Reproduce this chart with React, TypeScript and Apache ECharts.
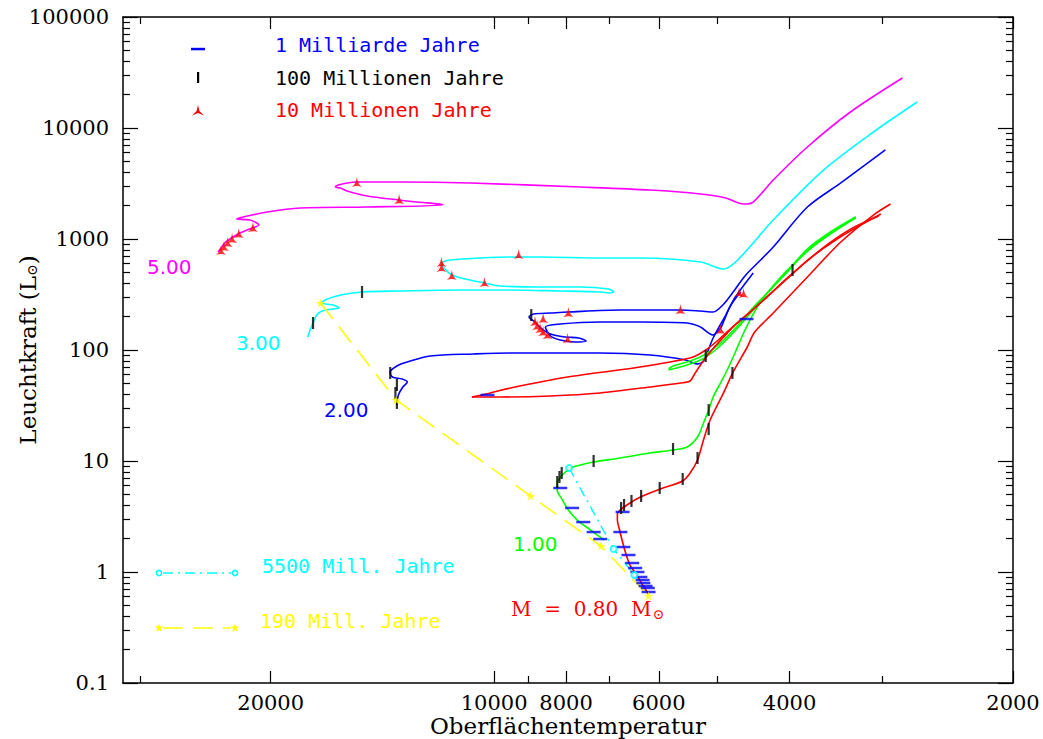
import React, { useEffect, useRef } from "react";
import * as echarts from "echarts";

type P = [number, number];

// ---- axis tick values (Teff in K, luminosity in L_sun) ----
const xMajorTemps = [20000, 10000, 8000, 6000, 4000, 2000];
const xMinorTemps = [30000, 9000, 7000, 5000, 3000];
const yMajorLums = [0.1, 1, 10, 100, 1000, 10000, 100000];
const yLumLabels = ["0.1", "1", "10", "100", "1000", "10000", "100000"];

// ---- evolutionary tracks: [log10 Teff, log10 L/Lsun] ----
const track500: P[] = [
  [4.372, 2.883], [4.368, 2.919], [4.363, 2.964], [4.356, 3.0], [4.345, 3.045],
  [4.326, 3.099], [4.317, 3.126], [4.329, 3.171], [4.347, 3.18], [4.338, 3.198],
  [4.306, 3.243], [4.261, 3.279], [4.171, 3.288], [4.069, 3.306], [4.073, 3.315],
  [4.104, 3.333], [4.128, 3.351], [4.171, 3.387], [4.198, 3.432], [4.207, 3.459],
  [4.214, 3.468], [4.21, 3.486], [4.198, 3.505], [4.185, 3.514], [4.126, 3.514],
  [4.032, 3.505], [3.884, 3.468], [3.79, 3.441], [3.722, 3.405], [3.688, 3.369],
  [3.664, 3.315], [3.651, 3.333], [3.624, 3.532], [3.578, 3.829], [3.52, 4.144],
  [3.45, 4.45],
];
const track300: P[] = [
  [4.251, 2.117], [4.248, 2.18], [4.244, 2.243], [4.239, 2.315], [4.232, 2.351],
  [4.218, 2.369], [4.209, 2.378], [4.217, 2.405], [4.232, 2.423], [4.228, 2.45],
  [4.207, 2.495], [4.178, 2.523], [4.127, 2.532], [4.046, 2.541], [3.978, 2.541],
  [3.911, 2.532], [3.857, 2.523], [3.843, 2.514], [3.839, 2.523], [3.846, 2.55],
  [3.884, 2.568], [3.938, 2.568], [3.992, 2.577], [4.013, 2.604], [4.039, 2.64],
  [4.057, 2.676], [4.065, 2.721], [4.07, 2.766], [4.069, 2.793], [4.059, 2.811],
  [4.019, 2.829], [3.978, 2.838], [3.938, 2.838], [3.857, 2.829], [3.803, 2.829],
  [3.722, 2.793], [3.691, 2.73], [3.672, 2.811], [3.624, 3.171], [3.556, 3.622],
  [3.489, 3.964], [3.43, 4.234],
];
const track200ms: P[] = [
  [4.131, 1.505], [4.129, 1.595], [4.123, 1.667], [4.117, 1.712], [4.124, 1.739],
  [4.137, 1.757], [4.14, 1.802], [4.131, 1.856], [4.117, 1.892], [4.086, 1.946],
  [4.028, 1.964], [3.978, 1.973], [3.857, 1.973], [3.79, 1.955], [3.742, 1.91],
  [3.726, 1.874], [3.718, 1.901], [3.705, 2.108], [3.688, 2.315], [3.675, 2.477],
  [3.651, 2.694],
];
const track200loop: P[] = [
  [3.668, 2.523], [3.682, 2.396], [3.69, 2.27], [3.695, 2.198], [3.705, 2.135],
  [3.713, 2.162], [3.722, 2.207], [3.74, 2.243], [3.803, 2.252], [3.857, 2.252],
  [3.911, 2.234], [3.931, 2.207], [3.924, 2.126], [3.911, 2.09], [3.891, 2.072],
  [3.876, 2.081], [3.886, 2.108], [3.904, 2.117], [3.924, 2.144], [3.937, 2.198],
  [3.945, 2.252], [3.953, 2.297], [3.947, 2.324], [3.924, 2.333], [3.901, 2.342],
  [3.83, 2.36], [3.749, 2.36], [3.722, 2.351], [3.705, 2.342], [3.692, 2.405],
  [3.678, 2.523], [3.661, 2.676], [3.641, 2.811], [3.624, 2.928], [3.578, 3.288],
  [3.533, 3.505], [3.473, 3.802],
];
const track100: P[] = [
  [3.852, 0.288], [3.861, 0.333], [3.87, 0.378], [3.888, 0.468], [3.9, 0.559],
  [3.908, 0.649], [3.915, 0.739], [3.915, 0.802], [3.908, 0.874], [3.897, 0.937],
  [3.884, 0.964], [3.866, 0.991], [3.83, 1.027], [3.79, 1.072], [3.759, 1.099],
  [3.74, 1.126], [3.726, 1.216], [3.718, 1.342], [3.711, 1.459], [3.705, 1.577],
  [3.695, 1.703], [3.686, 1.82], [3.675, 1.982], [3.664, 2.153], [3.648, 2.36],
  [3.632, 2.514], [3.601, 2.748], [3.564, 2.964], [3.533, 3.108], [3.513, 3.198],
];
const track100hbA: P[] = [
  [3.765, 1.829], [3.759, 1.856], [3.736, 1.901], [3.715, 1.964], [3.695, 2.063],
  [3.675, 2.198], [3.648, 2.405], [3.624, 2.568], [3.601, 2.739], [3.578, 2.91],
  [3.547, 3.063], [3.513, 3.198],
];
const track100hbB: P[] = [
  [3.765, 1.82], [3.749, 1.847], [3.722, 1.91], [3.702, 2.0], [3.682, 2.126],
  [3.657, 2.315], [3.631, 2.523], [3.605, 2.703], [3.58, 2.883], [3.55, 3.036],
  [3.513, 3.189],
];
const track080: P[] = [
  [3.792, -0.198], [3.8, -0.117], [3.808, -0.027], [3.817, 0.063], [3.822, 0.153],
  [3.827, 0.27], [3.831, 0.378], [3.834, 0.468], [3.834, 0.523], [3.83, 0.559],
  [3.821, 0.604], [3.803, 0.676], [3.776, 0.748], [3.746, 0.82], [3.736, 0.892],
  [3.726, 1.009], [3.718, 1.189], [3.709, 1.369], [3.691, 1.613], [3.678, 1.802],
  [3.659, 2.027], [3.649, 2.162], [3.624, 2.333], [3.578, 2.658], [3.533, 2.973],
  [3.489, 3.216], [3.466, 3.315],
];
const track080hbA: P[] = [
  [4.03, 1.577], [3.992, 1.577], [3.924, 1.586], [3.857, 1.613], [3.79, 1.667],
  [3.749, 1.703], [3.736, 1.721], [3.73, 1.784], [3.722, 1.865], [3.709, 1.982],
  [3.692, 2.108], [3.674, 2.234], [3.652, 2.36], [3.628, 2.505], [3.601, 2.667],
  [3.574, 2.829], [3.54, 2.991], [3.506, 3.126], [3.479, 3.225],
];
const track080hbB: P[] = [
  [4.03, 1.577], [4.005, 1.613], [3.978, 1.658], [3.901, 1.757], [3.812, 1.838],
  [3.763, 1.892], [3.732, 1.937], [3.715, 2.0], [3.698, 2.09], [3.679, 2.207],
  [3.657, 2.333], [3.634, 2.468], [3.608, 2.631], [3.58, 2.793], [3.55, 2.955],
  [3.517, 3.099], [3.482, 3.207],
];

// ---- isochrones ----
const iso190: P[] = [
  [4.234, 2.423], [4.132, 1.55], [3.951, 0.685], [3.856, 0.234], [3.792, -0.216],
];
const iso5500: P[] = [[3.899, 0.937], [3.839, 0.207], [3.811, -0.027]];

// ---- age markers ----
const marks10Myr: P[] = [
  [4.368, 2.901], [4.364, 2.937], [4.359, 2.973], [4.353, 3.009], [4.344, 3.054],
  [4.325, 3.108], [4.185, 3.514], [4.128, 3.36],
  [4.071, 2.793], [4.071, 2.748], [4.057, 2.676], [4.013, 2.613], [3.967, 2.865],
  [3.945, 2.261], [3.942, 2.225], [3.938, 2.198], [3.934, 2.171], [3.928, 2.144],
  [3.934, 2.288], [3.901, 2.108], [3.9, 2.342], [3.749, 2.369], [3.67, 2.523],
  [3.664, 2.514], [3.695, 2.189],
];
const marks100Myr: P[] = [
  [4.244, 2.243], [4.178, 2.523],
  [4.14, 1.793], [4.131, 1.685], [4.133, 1.613], [4.131, 1.523], [3.95, 2.315], [3.715, 1.946],
  [3.915, 0.811], [3.912, 0.856], [3.909, 0.892], [3.866, 1.0], [3.759, 1.108], [3.711, 1.459], [3.598, 2.721],
  [3.829, 0.577], [3.825, 0.604], [3.815, 0.64], [3.802, 0.685], [3.777, 0.757], [3.746, 0.838],
  [3.726, 1.027], [3.711, 1.288], [3.679, 1.793],
];
const marks1Gyr: P[] = [
  [3.827, 0.541], [3.83, 0.36], [3.826, 0.225], [3.819, 0.153], [3.814, 0.081], [3.81, 0.036],
  [3.807, 0.0], [3.803, -0.045], [3.8, -0.072], [3.799, -0.099], [3.796, -0.126], [3.793, -0.144],
  [3.792, -0.18],
  [3.911, 0.757], [3.895, 0.577], [3.88, 0.45], [3.866, 0.36], [3.857, 0.297],
  [4.009, 1.595], [3.66, 2.279],
];

const MAGENTA = "#ff00ff";
const CYAN = "#00ffff";
const BLUE = "#0000ff";
const RED = "#ff0000";
const GREEN = "#00ff00";
const YELLOW = "#ffff00";

const TRI_PATH = "path://M0,-10 Q1.6,1 8.7,5 Q0,2.4 -8.7,5 Q-1.6,1 0,-10 Z";
const STAR_PATH =
  "path://M0,-10 L2.4,-3.3 L9.5,-3.1 L3.9,1.3 L5.9,8.1 L0,4.1 L-5.9,8.1 L-3.9,1.3 L-9.5,-3.1 L-2.4,-3.3 Z";

const SERIF = "DejaVu Serif";
const SANS = "DejaVu Sans";
const MONO = "DejaVu Sans Mono";

function starPoints(cx: number, cy: number, r: number): number[][] {
  const pts: number[][] = [];
  for (let i = 0; i < 10; i++) {
    const a = -Math.PI / 2 + (i * Math.PI) / 5;
    const rr = i % 2 === 0 ? r : r * 0.42;
    pts.push([cx + rr * Math.cos(a), cy + rr * Math.sin(a)]);
  }
  return pts;
}

export default function App() {
  const ref = useRef<HTMLDivElement>(null);

  useEffect(() => {
    if (!ref.current) return;
    const chart = echarts.init(ref.current, undefined, { renderer: "svg" });
    const lg = (v: number) => Math.log10(v);
    const xMajor = xMajorTemps.map(lg);
    const xMinor = xMinorTemps.map(lg);
    const yMajor = yMajorLums.map(lg);
    const yMinor: number[] = [];
    for (let e = -1; e < 5; e++) for (let k = 2; k <= 9; k++) yMinor.push(e + lg(k));

    const frame = { show: true, onZero: false, lineStyle: { color: "#000", width: 1.5 } };
    const noLine = { show: false, onZero: false };
    const tick = (len: number, vals: number[]) => ({
      show: true,
      inside: true,
      length: len,
      customValues: vals,
      lineStyle: { color: "#000", width: 1.2 },
    });
    const xBase = {
      type: "value",
      min: lg(2000),
      max: 4.5,
      inverse: true,
      gridIndex: 0,
      splitLine: { show: false },
    };
    const yBase = { type: "value", min: -1, max: 5, gridIndex: 0, splitLine: { show: false } };

    const line = (data: P[], color: string, width = 1.6, smooth: number | boolean = 0.3) => ({
      type: "line",
      data,
      showSymbol: false,
      symbol: "none",
      smooth,
      silent: true,
      z: 2,
      lineStyle: { color, width },
    });

    const txt = (x: number, y: number, text: string, fill: string, font: string, extra: any = {}) => ({
      type: "text",
      x,
      y,
      z: 20,
      style: { text, fill, font, align: "left", verticalAlign: "middle", ...extra },
    });

    const option: any = {
      animation: false,
      backgroundColor: "#ffffff",
      grid: { left: 123, right: 30, top: 17, bottom: 56, containLabel: false, outerBoundsMode: "none" },
      xAxis: [
        {
          ...xBase,
          position: "bottom",
          axisLine: frame,
          axisTick: tick(12, xMajor),
          axisLabel: {
            show: true,
            customValues: xMajor,
            formatter: (v: number) => String(Math.round(Math.pow(10, v))),
            margin: 9,
            color: "#000",
            fontFamily: SERIF,
            fontSize: 21,
          },
          name: "Oberflächentemperatur",
          nameLocation: "middle",
          nameGap: 31,
          nameMoveOverlap: false,
          nameTextStyle: { color: "#000", fontFamily: SERIF, fontSize: 23 },
        },
        { ...xBase, position: "bottom", axisLine: noLine, axisTick: tick(7, xMinor), axisLabel: { show: false } },
        { ...xBase, position: "top", axisLine: frame, axisTick: tick(12, xMajor), axisLabel: { show: false } },
        { ...xBase, position: "top", axisLine: noLine, axisTick: tick(7, xMinor), axisLabel: { show: false } },
      ],
      yAxis: [
        {
          ...yBase,
          position: "left",
          axisLine: frame,
          axisTick: tick(15, yMajor),
          axisLabel: {
            show: true,
            customValues: yMajor,
            formatter: (v: number) => yLumLabels[Math.round(v) + 1],
            margin: 14,
            color: "#000",
            fontFamily: SERIF,
            fontSize: 21,
          },
          name: "{n|Leuchtkraft (L}{s|⊙}{n|)}",
          nameLocation: "middle",
          nameGap: 84,
          nameMoveOverlap: false,
          nameTextStyle: {
            color: "#000",
            fontFamily: SERIF,
            fontSize: 23,
            rich: {
              n: { fontFamily: SERIF, fontSize: 23, color: "#000" },
              s: { fontFamily: SERIF, fontSize: 14, color: "#000", padding: [9, 0, 0, 0] },
            },
          },
        },
        { ...yBase, position: "left", axisLine: noLine, axisTick: tick(7, yMinor), axisLabel: { show: false } },
        { ...yBase, position: "right", axisLine: frame, axisTick: tick(15, yMajor), axisLabel: { show: false } },
        { ...yBase, position: "right", axisLine: noLine, axisTick: tick(7, yMinor), axisLabel: { show: false } },
      ],
      series: [
        line(track500, MAGENTA),
        line(track300, CYAN),
        line(track200ms, BLUE),
        line(track200loop, BLUE),
        line(track100, GREEN),
        line(track100hbA, GREEN),
        line(track100hbB, GREEN),
        line(track080, RED),
        line(track080hbA, RED),
        line(track080hbB, RED),
        {
          type: "line",
          data: iso190,
          showSymbol: false,
          symbol: "none",
          silent: true,
          z: 3,
          lineStyle: { color: YELLOW, width: 1.5, type: [20, 10] },
        },
        {
          type: "line",
          data: iso5500,
          showSymbol: false,
          symbol: "none",
          silent: true,
          z: 3,
          lineStyle: { color: CYAN, width: 1.5, type: [10, 5, 2, 5] },
        },
        {
          type: "scatter",
          data: iso190,
          symbol: STAR_PATH,
          symbolSize: 9,
          silent: true,
          z: 6,
          itemStyle: { color: YELLOW },
        },
        {
          type: "scatter",
          data: iso5500,
          symbol: "emptyCircle",
          symbolSize: 6,
          silent: true,
          z: 6,
          itemStyle: { color: CYAN, borderColor: CYAN, borderWidth: 1.5 },
        },
        {
          type: "scatter",
          data: marks1Gyr,
          symbol: "rect",
          symbolSize: [14, 2.5],
          silent: true,
          z: 5,
          itemStyle: { color: BLUE },
        },
        {
          type: "scatter",
          data: marks100Myr,
          symbol: "rect",
          symbolSize: [2.2, 12],
          silent: true,
          z: 5,
          itemStyle: { color: "#000" },
        },
        {
          type: "scatter",
          data: marks10Myr,
          symbol: TRI_PATH,
          symbolSize: 10,
          silent: true,
          z: 5,
          itemStyle: { color: RED },
        },
      ],
      graphic: [
        // legend: age markers
        { type: "rect", z: 20, shape: { x: 191, y: 47.8, width: 14, height: 2.5 }, style: { fill: BLUE } },
        txt(275, 45, "1 Milliarde Jahre", BLUE, `20px "${MONO}"`),
        { type: "rect", z: 20, shape: { x: 197, y: 72, width: 2.2, height: 11 }, style: { fill: "#000" } },
        txt(275, 78, "100 Millionen Jahre", "#000", `20px "${MONO}"`),
        {
          type: "polygon",
          z: 20,
          shape: { points: [[198, 105], [199.4, 111], [204, 115.5], [198, 113], [192, 115.5], [196.6, 111]] },
          style: { fill: RED },
        },
        txt(275, 110, "10 Millionen Jahre", RED, `20px "${MONO}"`),
        // legend: isochrones
        {
          type: "line",
          z: 20,
          shape: { x1: 163, y1: 573, x2: 231, y2: 573 },
          style: { stroke: CYAN, lineWidth: 1.5, lineDash: [10, 5, 2, 5] },
        },
        { type: "circle", z: 20, shape: { cx: 159, cy: 573, r: 2.6 }, style: { fill: "none", stroke: CYAN, lineWidth: 1.5 } },
        { type: "circle", z: 20, shape: { cx: 235, cy: 573, r: 2.6 }, style: { fill: "none", stroke: CYAN, lineWidth: 1.5 } },
        txt(262, 566, "5500 Mill. Jahre", CYAN, `20px "${MONO}"`),
        {
          type: "line",
          z: 20,
          shape: { x1: 163, y1: 628, x2: 231, y2: 628 },
          style: { stroke: YELLOW, lineWidth: 1.5, lineDash: [20, 10] },
        },
        { type: "polygon", z: 20, shape: { points: starPoints(159, 628, 4.5) }, style: { fill: YELLOW } },
        { type: "polygon", z: 20, shape: { points: starPoints(235, 628, 4.5) }, style: { fill: YELLOW } },
        txt(260, 621, "190 Mill. Jahre", YELLOW, `20px "${MONO}"`),
        // track labels
        txt(147, 267, "5.00", MAGENTA, `20px "${SANS}"`),
        txt(236, 343, "3.00", CYAN, `20px "${SANS}"`),
        txt(324, 410, "2.00", BLUE, `20px "${SANS}"`),
        txt(513, 544, "1.00", GREEN, `20px "${SANS}"`),
        {
          type: "text",
          x: 511,
          y: 609,
          z: 20,
          style: {
            text: "{m|M  =  0.80  M}{s|⊙}",
            fill: RED,
            align: "left",
            verticalAlign: "middle",
            rich: {
              m: { fontFamily: SERIF, fontSize: 20, fill: RED, color: RED },
              s: { fontFamily: SERIF, fontSize: 14, fill: RED, color: RED, padding: [10, 0, 0, 1] },
            },
          },
        },
      ],
    };

    chart.setOption(option);
    return () => chart.dispose();
  }, []);

  return (
    <div
      ref={ref}
      style={{ position: "absolute", left: 0, top: 0, width: 1043, height: 739, background: "#fff" }}
    />
  );
}
